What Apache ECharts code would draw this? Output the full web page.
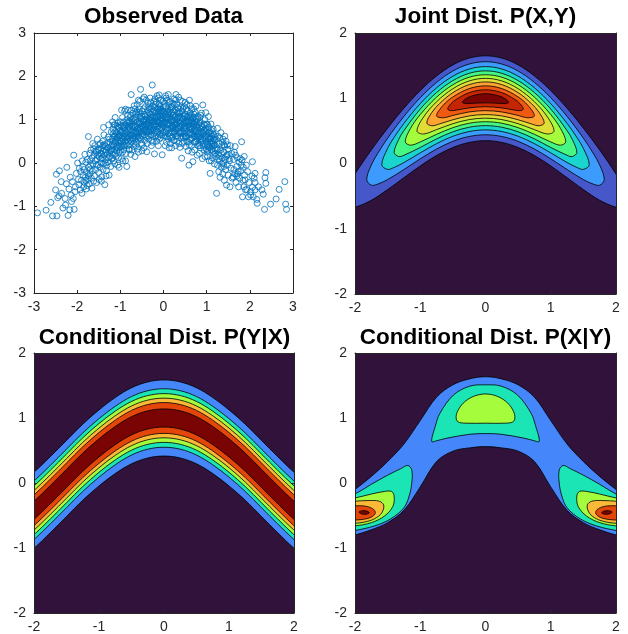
<!DOCTYPE html>
<html>
<head>
<meta charset="utf-8">
<title>Observed data, joint and conditional distributions</title>
<script src="https://cdn.jsdelivr.net/npm/echarts@6/dist/echarts.min.js"></script>
<style>
  html, body { margin: 0; padding: 0; background: #fff; }
  #chart { width: 628px; height: 634px; }
</style>
</head>
<body>
<div id="chart"></div>
<script>
// tick labels
const scatterTicks = [-3, -2, -1, 0, 1, 2, 3];
const contourTicks = [-2, -1, 0, 1, 2];

// observed (x, y) samples
const observed = [
  [-2.92,-1.15],[-2.72,-1.09],[-2.61,-0.91],[-2.57,-1.22],[-2.47,-1.22],[-2.50,-0.62],[-2.48,-0.26],[-2.41,-0.18],[-2.37,-0.43],[-2.42,-0.76],
  [-2.33,-1.04],[-2.27,-0.97],[-2.21,-1.21],[-2.17,-1.08],[-2.13,-0.89],[-2.07,-1.07],[-2.24,-0.10],[-2.08,0.18],[-2.11,-0.43],[-2.14,-0.74],
  [-2.05,-0.66],[-2.02,-0.24],[-2.28,-0.82],[-2.36,-0.70],[-2.19,-0.60],[-2.04,-0.55],[-2.16,-0.33],[-2.25,-0.48],[-2.09,-0.82],[-2.45,-0.80],
  [-1.99,0.00],[-1.97,-0.38],[-1.95,-0.12],[-1.93,-0.62],[-1.92,-0.20],[-1.90,-0.40],[-1.89,-0.70],[-1.88,0.05],[-1.86,-0.28],[-1.85,-0.55],
  [-1.84,-0.15],[-1.83,-0.45],[-1.81,-0.33],[-1.80,0.02],[-1.79,-0.60],[-1.78,-0.22],[-1.76,0.08],[-1.75,-0.38],[-1.74,0.61],[-1.73,-0.10],
  [-1.72,-0.48],[-1.71,0.22],[-1.70,-0.25],[-1.69,-0.05],[-1.68,0.30],[-1.67,-0.35],[-1.66,0.12],[-1.65,-0.18],[-1.64,0.45],[-1.63,-0.02],
  [-1.62,-0.42],[-1.61,0.18],[-1.96,-0.50],[-1.87,-0.09],[-1.82,0.20],[-1.77,-0.52],[-1.74,-0.30],[-1.70,0.05],[-1.66,-0.58],[-1.62,0.33],
  [-1.60,-0.30],[-1.59,0.40],[-1.58,0.05],[-1.57,-0.15],[-1.56,0.25],[-1.55,-0.45],[-1.54,0.10],[-1.53,0.55],[-1.52,-0.05],[-1.51,0.32],
  [-1.50,-0.22],[-1.49,0.15],[-1.48,0.42],[-1.47,-0.10],[-1.46,0.22],[-1.45,0.00],[-1.44,0.35],[-1.43,-0.32],[-1.42,0.12],[-1.41,0.50],
  [-1.40,0.28],[-1.39,-0.02],[-1.38,0.65],[-1.37,0.18],[-1.36,-0.50],[-1.35,0.38],[-1.34,0.08],[-1.33,0.30],[-1.32,-0.18],[-1.31,0.45],
  [-1.30,0.22],[-1.29,0.02],[-1.28,0.60],[-1.27,0.35],[-1.26,-0.28],[-1.25,0.15],[-1.24,0.48],[-1.23,0.28],[-1.22,-0.08],[-1.21,0.72],
  [-1.20,0.40],[-1.58,0.28],[-1.55,-0.05],[-1.52,0.18],[-1.49,-0.38],[-1.46,0.45],[-1.43,0.20],[-1.40,-0.15],[-1.37,0.42],[-1.34,0.25],
  [-1.31,-0.05],[-1.28,0.12],[-1.25,0.55],[-1.22,0.30],[-1.39,0.82],[-1.27,0.88],[-1.44,-0.42],[-1.33,-0.30],
  [-1.50,0.30],[-1.45,0.10],[-1.40,0.40],[-1.35,0.00],[-1.30,0.35],[-1.25,0.25],[-1.20,0.10],[-1.70,-0.15],[-1.80,-0.40],
  [-1.19,0.55],[-1.18,0.20],[-1.17,0.78],[-1.16,0.40],[-1.15,0.05],[-1.14,0.62],[-1.13,0.30],[-1.12,0.88],[-1.11,0.48],[-1.10,0.15],
  [-1.09,0.70],[-1.08,0.35],[-1.07,0.58],[-1.06,-0.05],[-1.05,0.82],[-1.04,0.45],[-1.03,0.25],[-1.02,0.65],[-1.01,0.52],[-1.00,0.95],
  [-0.99,0.38],[-0.98,0.72],[-0.97,0.10],[-0.96,0.58],[-0.95,1.05],[-0.94,0.45],[-0.93,0.80],[-0.92,0.30],[-0.91,0.62],[-0.90,1.20],
  [-0.89,0.50],[-0.88,0.88],[-0.87,0.22],[-0.86,0.70],[-0.85,1.00],[-0.84,0.40],[-0.83,0.78],[-0.82,0.58],[-0.81,0.95],[-0.80,0.32],
  [-1.19,0.32],[-1.16,0.68],[-1.13,-0.02],[-1.10,0.52],[-1.07,0.85],[-1.04,0.12],[-1.01,0.75],[-0.98,0.48],[-0.95,0.25],[-0.92,0.95],
  [-0.89,0.68],[-0.86,0.45],[-0.83,1.10],[-0.80,0.75],[-1.18,0.95],[-1.14,0.45],[-1.11,0.62],[-1.08,0.28],[-1.05,0.60],[-1.02,0.40],
  [-0.99,0.88],[-0.96,0.72],[-0.93,0.55],[-0.90,0.85],[-0.87,0.60],[-0.84,0.92],[-0.81,0.50],[-0.97,1.22],[-0.88,1.24],[-0.85,-0.08],
  [-1.03,-0.10],[-0.94,0.05],[-1.12,1.05],[-0.82,1.22],[-1.06,0.92],
  [-1.18,0.12],[-1.15,0.88],[-1.12,0.20],[-1.09,0.38],[-1.06,0.66],[-1.03,0.82],[-1.00,0.30],[-0.97,0.50],[-0.94,0.68],[-0.91,0.40],
  [-0.88,0.05],[-0.85,0.55],[-0.82,0.82],[-1.17,0.50],[-1.13,0.72],[-1.09,0.55],[-1.05,0.35],[-1.01,0.62],[-0.97,0.85],[-0.93,0.40],
  [-0.89,0.75],[-0.85,0.62],[-0.81,0.85],
  [-0.79,0.85],[-0.78,0.42],[-0.77,1.05],[-0.76,0.65],[-0.75,1.58],[-0.74,0.90],[-0.73,0.30],[-0.72,0.75],[-0.71,1.15],[-0.70,0.55],
  [-0.69,0.95],[-0.68,0.38],[-0.67,0.82],[-0.66,1.25],[-0.65,0.62],[-0.64,1.00],[-0.63,0.48],[-0.62,0.88],[-0.61,1.35],[-0.60,0.70],
  [-0.59,1.10],[-0.58,0.25],[-0.57,0.92],[-0.56,0.58],[-0.55,1.42],[-0.54,0.80],[-0.53,1.70],[-0.52,1.02],[-0.51,0.45],[-0.50,0.85],
  [-0.49,1.20],[-0.48,0.68],[-0.47,1.48],[-0.46,0.95],[-0.45,0.35],[-0.44,1.12],[-0.43,0.78],[-0.42,1.30],[-0.41,0.60],[-0.40,0.98],
  [-0.79,0.62],[-0.77,0.78],[-0.75,0.50],[-0.73,1.00],[-0.71,0.70],[-0.69,0.45],[-0.67,1.05],[-0.65,0.85],[-0.63,0.72],[-0.61,0.95],
  [-0.59,0.55],[-0.57,1.18],[-0.55,0.72],[-0.53,0.90],[-0.51,1.08],[-0.49,0.62],[-0.47,0.82],[-0.45,1.00],[-0.43,0.52],[-0.41,0.90],
  [-0.78,0.95],[-0.74,1.22],[-0.70,0.85],[-0.66,0.55],[-0.62,1.18],[-0.58,0.80],[-0.54,1.05],[-0.50,0.72],[-0.46,1.25],[-0.42,0.85],
  [-0.76,0.20],[-0.68,1.32],[-0.60,0.32],[-0.52,0.55],[-0.44,0.65],[-0.56,1.25],[-0.48,0.98],[-0.64,0.68],[-0.72,0.58],[-0.40,1.45],
  [-0.58,1.45],[-0.66,0.15],[-0.50,0.28],[-0.45,1.52],
  [-0.79,0.30],[-0.76,1.10],[-0.73,0.65],[-0.70,1.02],[-0.67,0.70],[-0.64,0.40],[-0.61,0.78],[-0.58,0.62],[-0.55,0.95],[-0.52,0.78],
  [-0.49,0.42],[-0.46,0.75],[-0.43,1.08],[-0.40,0.70],[-0.77,0.55],[-0.73,0.85],[-0.69,0.62],[-0.65,1.15],[-0.61,0.60],[-0.57,0.75],
  [-0.53,1.15],[-0.49,0.85],[-0.45,0.88],[-0.41,0.75],
  [-0.39,0.26],[-0.38,1.05],[-0.37,0.72],[-0.36,1.38],[-0.35,0.90],[-0.34,0.55],[-0.33,1.15],[-0.32,0.82],[-0.31,1.50],[-0.30,1.00],
  [-0.29,0.65],[-0.28,1.25],[-0.27,0.92],[-0.26,1.80],[-0.25,0.48],[-0.24,1.10],[-0.23,0.78],[-0.22,1.42],[-0.21,0.21],[-0.20,0.98],
  [-0.19,1.28],[-0.18,0.62],[-0.17,1.05],[-0.16,0.85],[-0.15,1.55],[-0.14,0.72],[-0.13,1.18],[-0.12,0.40],[-0.11,0.95],[-0.10,1.35],
  [-0.09,0.80],[-0.08,1.08],[-0.07,0.58],[-0.06,1.45],[-0.05,0.90],[-0.04,1.22],[-0.03,0.19],[-0.02,1.02],[-0.01,0.70],[0.00,1.30],
  [-0.39,0.88],[-0.37,1.22],[-0.35,0.62],[-0.33,0.98],[-0.31,0.75],[-0.29,1.12],[-0.27,0.52],[-0.25,1.32],[-0.23,0.88],[-0.21,1.05],
  [-0.19,0.70],[-0.17,1.40],[-0.15,0.95],[-0.13,0.60],[-0.11,1.25],[-0.09,1.00],[-0.07,0.82],[-0.05,1.15],[-0.03,0.65],[-0.01,1.42],
  [-0.38,0.45],[-0.34,1.30],[-0.30,0.85],[-0.26,1.05],[-0.22,0.68],[-0.18,1.15],[-0.14,1.00],[-0.10,0.55],[-0.06,1.18],[-0.02,0.88],
  [-0.36,1.02],[-0.28,0.40],[-0.20,1.48],[-0.12,0.85],[-0.04,0.98],[-0.32,1.25],[-0.24,0.95],[-0.16,0.50],[-0.08,1.30],[-0.14,1.25],
  [-0.06,0.75],[-0.26,0.75],[-0.18,0.90],[-0.10,1.10],[-0.02,1.20],[-0.35,0.78],[-0.22,1.20],[-0.08,0.65],[-0.30,1.40],[-0.12,1.50],
  [-0.10,1.57],
  [-0.37,0.95],[-0.34,0.72],[-0.31,1.05],[-0.28,0.82],[-0.25,0.62],[-0.22,0.95],[-0.19,1.35],[-0.16,1.08],[-0.13,0.78],[-0.10,0.92],
  [-0.07,1.25],[-0.04,0.80],[-0.01,1.08],[-0.37,1.10],[-0.33,0.88],[-0.29,0.98],[-0.25,1.18],[-0.21,0.85],[-0.17,0.75],[-0.13,1.08],
  [-0.09,1.20],[-0.05,1.02],[-0.01,0.92],
  [0.01,0.85],[0.02,1.38],[0.03,0.62],[0.04,1.12],[0.05,0.95],[0.06,1.50],[0.07,0.48],[0.08,1.05],[0.09,0.78],[0.10,1.25],
  [0.11,1.58],[0.12,0.90],[0.13,0.35],[0.14,1.18],[0.15,0.70],[0.16,1.42],[0.17,1.00],[0.18,0.58],[0.19,0.35],[0.20,1.30],
  [0.21,0.82],[0.22,1.10],[0.23,0.52],[0.24,1.48],[0.25,0.95],[0.26,0.72],[0.27,1.22],[0.28,0.40],[0.29,1.58],[0.30,0.88],
  [0.31,1.35],[0.32,0.62],[0.33,1.05],[0.34,0.80],[0.35,1.52],[0.36,0.45],[0.37,1.15],[0.38,0.36],[0.39,0.92],[0.40,1.28],
  [0.01,1.18],[0.03,0.92],[0.05,1.30],[0.07,0.75],[0.09,1.02],[0.11,0.55],[0.13,1.40],[0.15,1.05],[0.17,0.80],[0.19,1.15],
  [0.21,0.60],[0.23,0.98],[0.25,1.35],[0.27,0.78],[0.29,1.10],[0.31,0.50],[0.33,1.28],[0.35,0.95],[0.37,0.70],[0.39,1.45],
  [0.02,0.72],[0.06,1.05],[0.10,0.88],[0.14,0.62],[0.18,1.25],[0.22,0.85],[0.26,1.05],[0.30,0.68],[0.34,1.18],[0.38,0.85],
  [0.04,0.40],[0.08,1.45],[0.12,1.15],[0.16,0.45],[0.20,1.00],[0.24,0.68],[0.28,1.45],[0.32,0.92],[0.36,1.08],[0.40,0.58],
  [0.05,1.55],[0.15,0.88],[0.25,0.52],[0.35,0.70],[0.12,0.68],[0.22,1.38],[0.32,1.02],[0.18,0.95],[0.08,0.60],[0.28,0.88],
  [0.02,0.95],[0.05,0.70],[0.08,1.20],[0.11,1.00],[0.14,0.80],[0.17,1.30],[0.20,0.72],[0.23,1.18],[0.26,0.88],[0.29,0.62],
  [0.32,1.15],[0.35,0.85],[0.38,1.05],[0.03,1.05],[0.07,0.90],[0.11,1.10],[0.15,1.22],[0.19,0.85],[0.23,0.82],[0.27,1.00],
  [0.31,0.80],[0.35,1.25],[0.39,0.72],
  [0.41,0.95],[0.42,0.11],[0.43,1.20],[0.44,1.42],[0.45,0.72],[0.46,1.02],[0.47,0.50],[0.48,1.30],[0.49,0.85],[0.50,0.62],
  [0.51,1.12],[0.52,0.38],[0.53,0.95],[0.54,1.35],[0.55,0.70],[0.56,1.05],[0.57,0.28],[0.58,0.88],[0.59,-0.05],[0.60,1.45],
  [0.61,0.78],[0.62,1.15],[0.63,0.55],[0.64,0.98],[0.65,0.40],[0.66,1.25],[0.67,0.82],[0.68,0.03],[0.69,1.05],[0.70,0.62],
  [0.71,0.90],[0.72,0.30],[0.73,1.18],[0.74,0.72],[0.75,1.31],[0.76,0.50],[0.77,0.95],[0.78,0.18],[0.79,0.80],[0.80,1.08],
  [0.41,0.68],[0.43,0.88],[0.45,1.25],[0.47,0.80],[0.49,1.08],[0.51,0.60],[0.53,0.80],[0.55,1.20],[0.57,0.95],[0.59,0.65],
  [0.61,1.00],[0.63,0.82],[0.65,1.10],[0.67,0.58],[0.69,0.85],[0.71,1.12],[0.73,0.48],[0.75,0.88],[0.77,0.65],[0.79,1.02],
  [0.42,1.05],[0.46,0.58],[0.50,0.95],[0.54,0.50],[0.58,1.10],[0.62,0.70],[0.66,0.92],[0.70,1.25],[0.74,0.95],[0.78,0.55],
  [0.44,0.45],[0.52,1.25],[0.60,0.42],[0.68,1.02],[0.76,0.75],[0.48,0.68],[0.56,0.85],[0.64,0.65],[0.72,0.80],[0.80,0.68],
  [0.50,1.40],[0.66,0.25],[0.58,0.48],[0.74,1.05],[0.62,1.32],
  [0.41,0.82],[0.44,0.62],[0.47,1.10],[0.50,0.78],[0.53,0.62],[0.56,0.98],[0.59,0.82],[0.62,0.55],[0.65,0.78],[0.68,0.68],
  [0.71,0.48],[0.74,0.62],[0.77,0.85],[0.80,0.40],[0.43,1.00],[0.47,0.92],[0.51,0.85],[0.55,1.08],[0.59,0.95],[0.63,1.05],
  [0.67,0.95],[0.71,0.75],[0.75,0.72],[0.79,0.62],
  [0.81,0.45],[0.82,0.88],[0.83,0.22],[0.84,1.05],[0.85,0.62],[0.86,0.35],[0.87,0.78],[0.88,1.15],[0.89,0.52],[0.90,0.10],
  [0.91,1.34],[0.92,0.68],[0.93,0.40],[0.94,0.90],[0.95,0.58],[0.96,0.15],[0.97,0.80],[0.98,1.16],[0.99,0.48],[1.00,0.65],
  [1.01,0.25],[1.02,0.88],[1.03,0.40],[1.04,1.07],[1.05,0.55],[1.06,0.05],[1.07,0.72],[1.08,-0.24],[1.09,0.45],[1.10,0.90],
  [1.11,0.30],[1.12,0.62],[1.13,0.12],[1.14,0.50],[1.15,0.78],[1.16,0.20],[1.17,0.40],[1.18,-0.02],[1.19,0.60],[1.20,0.32],
  [0.82,0.60],[0.85,0.95],[0.88,0.72],[0.91,0.55],[0.94,0.30],[0.97,0.62],[1.00,0.90],[1.03,0.60],[1.06,0.38],[1.09,0.68],
  [1.12,0.45],[1.15,0.28],[1.18,0.52],[0.84,0.40],[0.90,0.82],[0.96,1.00],[1.02,0.15],[1.08,0.55],[1.14,0.68],[0.86,1.10],
  [0.93,0.75],[1.05,0.82],[1.11,0.05],[0.99,0.32],[1.17,0.65],
  [0.83,0.70],[0.86,0.55],[0.89,0.85],[0.92,0.45],[0.95,0.75],[0.98,0.55],[1.01,0.42],[1.04,0.70],[1.07,0.35],[1.10,0.58],
  [1.13,0.38],[1.16,0.55],[1.19,0.22],[0.83,0.92],[0.87,0.48],[0.91,0.70],[0.95,0.88],[0.99,0.72],[1.03,0.30],[1.07,0.48],
  [1.11,0.75],[1.15,0.45],[1.19,0.42],
  [1.21,0.15],[1.22,0.55],[1.23,-0.70],[1.24,0.35],[1.25,-0.05],[1.26,0.62],[1.27,0.20],[1.28,-0.20],[1.29,0.45],[1.30,0.05],
  [1.31,-0.33],[1.32,0.30],[1.33,0.70],[1.34,-0.10],[1.35,0.40],[1.36,0.12],[1.37,-0.25],[1.38,0.55],[1.39,0.00],[1.40,0.25],
  [1.41,-0.40],[1.42,0.38],[1.43,0.08],[1.44,-0.15],[1.45,0.50],[1.46,-0.51],[1.47,0.18],[1.48,-0.05],[1.49,0.32],[1.50,-0.28],
  [1.52,0.10],[1.54,-0.55],[1.55,0.40],[1.56,-0.12],[1.58,0.22],[1.59,-0.35],[1.25,0.80],[1.30,0.58],[1.36,0.48],[1.42,0.62],
  [1.48,0.42],[1.53,0.05],[1.28,0.10],[1.34,0.22],[1.40,-0.08],
  [1.25,0.30],[1.30,0.15],[1.35,-0.02],[1.40,0.42],[1.45,0.15],[1.50,0.20],[1.70,-0.30],[1.80,-0.05],
  [1.61,-0.32],[1.62,0.08],[1.63,-0.15],[1.64,0.25],[1.66,0.38],[1.67,0.18],[1.68,-0.45],[1.70,-0.08],[1.71,0.12],[1.72,-0.25],
  [1.74,-0.55],[1.75,0.02],[1.76,-0.35],[1.78,0.10],[1.79,-0.18],[1.81,0.49],[1.82,0.07],[1.83,-0.78],[1.84,-0.40],[1.85,-0.10],
  [1.87,0.15],[1.88,-0.28],[1.89,-0.39],[1.90,-0.62],[1.92,-0.05],[1.93,-0.61],[1.95,-0.20],[1.97,-0.78],[1.98,-0.45],[1.65,-0.25],
  [1.73,-0.20],[1.86,-0.55],
  [2.02,-0.66],[2.02,-0.74],[2.06,0.03],[2.06,-0.56],[2.10,-0.35],[2.12,-0.24],[2.12,-0.45],[2.12,-0.62],[2.16,-0.84],[2.17,-0.93],
  [2.28,-0.62],[2.31,-0.72],[2.34,-1.07],[2.35,-0.34],[2.37,-0.22],[2.37,-0.47],[2.48,-0.95],[2.61,-0.83],[2.68,-0.61],[2.81,-0.43],
  [2.83,-0.95],[2.85,-1.07],[2.05,-0.30],[2.08,-0.78],[2.20,-0.55]
];

// contour fill colours
const backgroundColor = '#30123b';
const jointColors = ['#4557c9', '#3e9bfe', '#19d5cd', '#47f784', '#a4fc3c', '#e1dd37', '#fea331', '#ef5911', '#c42503', '#7a0403'];
const condColors = ['#4686fb', '#1be5b5', '#a4fc3c', '#fbb938', '#e4460a', '#7a0403'];

// Joint P(X,Y): each level traced for x >= 0 (upper edge out to the tip, lower edge), mirrored for x < 0
const jointUpper = [
  [[0,1.65],[0.25,1.615],[0.5,1.511],[0.75,1.342],[1,1.117],[1.25,0.847],[1.5,0.542],[1.75,0.208],[2,-0.161],[2.1,-0.337],[2.174,-0.567]],
  [[0,1.56],[0.25,1.524],[0.5,1.417],[0.75,1.242],[1,1.008],[1.25,0.722],[1.5,0.388],[1.65,0.157],[1.75,-0.024],[1.82,-0.247]],
  [[0,1.485],[0.25,1.448],[0.5,1.338],[0.75,1.16],[1,0.917],[1.25,0.615],[1.4,0.40],[1.5,0.232],[1.59,-0.019]],
  [[0,1.42],[0.25,1.382],[0.5,1.27],[0.75,1.087],[1,0.834],[1.25,0.504],[1.33,0.369],[1.4,0.17]],
  [[0,1.36],[0.25,1.322],[0.5,1.207],[0.75,1.017],[1,0.75],[1.15,0.537],[1.23,0.334]],
  [[0,1.305],[0.25,1.265],[0.5,1.146],[0.75,0.946],[0.95,0.712],[1.05,0.498]],
  [[0,1.25],[0.25,1.209],[0.5,1.086],[0.7,0.922],[0.82,0.785],[0.9,0.622]],
  [[0,1.19],[0.25,1.148],[0.5,1.02],[0.65,0.891],[0.75,0.732]],
  [[0,1.13],[0.25,1.086],[0.45,0.982],[0.53,0.916],[0.58,0.836]],
  [[0,1.07],[0.2,1.038],[0.3,0.993],[0.355,0.938]]
];
const jointLower = [
  [[0,0.35],[0.25,0.323],[0.5,0.245],[0.75,0.122],[1,-0.037],[1.25,-0.217],[1.5,-0.40],[1.75,-0.564],[2,-0.671],[2.1,-0.673]],
  [[0,0.44],[0.25,0.414],[0.5,0.34],[0.75,0.222],[1,0.072],[1.25,-0.092],[1.5,-0.246],[1.65,-0.315],[1.75,-0.332]],
  [[0,0.515],[0.25,0.49],[0.5,0.418],[0.75,0.304],[1,0.163],[1.25,0.015],[1.4,-0.06],[1.5,-0.09]],
  [[0,0.58],[0.25,0.556],[0.5,0.486],[0.75,0.377],[1,0.246],[1.25,0.126],[1.33,0.107]],
  [[0,0.64],[0.25,0.617],[0.5,0.549],[0.75,0.447],[1,0.33],[1.15,0.281]],
  [[0,0.695],[0.25,0.673],[0.5,0.61],[0.75,0.519],[0.95,0.452]],
  [[0,0.75],[0.25,0.729],[0.5,0.67],[0.7,0.608],[0.82,0.579]],
  [[0,0.81],[0.25,0.79],[0.5,0.736],[0.65,0.701]],
  [[0,0.87],[0.25,0.852],[0.45,0.818],[0.53,0.81]],
  [[0,0.93],[0.2,0.922],[0.3,0.918]]
];

// Conditional P(Y|X): ridge of the bands and the half-width of each level
const condXs = [-2.25, -2, -1.75, -1.5, -1.25, -1, -0.75, -0.5, -0.25, 0, 0.25, 0.5, 0.75, 1, 1.25, 1.5, 1.75, 2, 2.25];
const condRidge = [-0.63, -0.42, -0.18, 0.07, 0.32, 0.54, 0.73, 0.88, 0.97, 1.0, 0.97, 0.88, 0.73, 0.54, 0.32, 0.07, -0.18, -0.42, -0.63];
const condHalfWidth = [0.585, 0.45, 0.375, 0.305, 0.237, 0.14];

// Conditional P(X|Y): outer arch and central cap (x >= 0, mirrored), end lobes (x < 0, mirrored)
const archUpper = [[0,1.635],[0.25,1.60],[0.5,1.51],[0.75,1.32],[1,0.96],[1.25,0.60],[1.5,0.33],[1.75,0.10],[2,-0.10],[2.3,-0.32]];
const archLower = [[0,0.56],[0.25,0.54],[0.5,0.49],[0.75,0.33],[1,-0.06],[1.25,-0.42],[1.5,-0.61],[1.75,-0.72],[2,-0.80],[2.3,-0.88]];
const capUpper = [[0,1.51],[0.24,1.49],[0.49,1.354],[0.70,1.07],[0.77,0.87],[0.825,0.64]];
const capLower = [[0,0.76],[0.24,0.75],[0.59,0.69],[0.75,0.65]];
const domeUpper = [[0,1.37],[0.19,1.33],[0.34,1.23],[0.43,1.10],[0.45,1.0]];
const domeLower = [[0,0.92],[0.3,0.92],[0.42,0.94]];
const lobes = [
  [[-2.3,-0.30],[-2,-0.17],[-1.75,-0.02],[-1.5,0.12],[-1.3,0.22],[-1.19,0.27],[-1.13,0.20],[-1.13,0.0],[-1.17,-0.2],[-1.25,-0.38],[-1.45,-0.55],[-1.7,-0.66],[-2,-0.73],[-2.3,-0.77]],
  [[-2.3,-0.28],[-2,-0.23],[-1.75,-0.17],[-1.55,-0.13],[-1.44,-0.13],[-1.40,-0.20],[-1.42,-0.36],[-1.55,-0.51],[-1.75,-0.61],[-2,-0.66],[-2.3,-0.68]],
  [[-2.3,-0.30],[-2,-0.28],[-1.8,-0.27],[-1.63,-0.28],[-1.56,-0.34],[-1.59,-0.46],[-1.7,-0.55],[-1.85,-0.60],[-2,-0.62],[-2.3,-0.63]],
  [[-2.3,-0.36],[-2,-0.35],[-1.82,-0.36],[-1.71,-0.41],[-1.69,-0.47],[-1.76,-0.53],[-1.88,-0.56],[-2,-0.57],[-2.3,-0.58]],
  [[-1.94,-0.445],[-1.88,-0.425],[-1.81,-0.435],[-1.78,-0.46],[-1.83,-0.48],[-1.90,-0.475]]
];

const axisColor = '#262626';
const labelFont = { color: axisColor, fontSize: 14, fontFamily: '"Liberation Sans", Arial, Helvetica, sans-serif' };

// closed outline from the x >= 0 half (upper to tip, lower back) plus its mirror image
function mirrorLoop(upper, lower) {
  const right = upper.concat(lower.slice().reverse());
  const leftLower = lower.slice(1).map(p => [-p[0], p[1]]);
  const leftUpper = upper.slice(1).reverse().map(p => [-p[0], p[1]]);
  return right.concat(leftLower, leftUpper);
}
function flipX(points) {
  return points.map(p => [-p[0], p[1]]);
}

const jointShapes = jointUpper.map((up, i) => ({ points: mirrorLoop(up, jointLower[i]), color: jointColors[i] }));

const condShapes = condHalfWidth.map((w, i) => {
  const top = condXs.map((x, j) => [x, condRidge[j] + w]);
  const bottom = condXs.map((x, j) => [x, condRidge[j] - w]).reverse();
  return { points: top.concat(bottom), color: condColors[i] };
});

const xGivenYShapes = [
  { points: mirrorLoop(archUpper, archLower), color: condColors[0] },
  { points: mirrorLoop(capUpper, capLower), color: condColors[1] },
  { points: mirrorLoop(domeUpper, domeLower), color: condColors[2] }
];
lobes.forEach((lobe, i) => {
  xGivenYShapes.push({ points: lobe, color: condColors[i + 1] });
  xGivenYShapes.push({ points: flipX(lobe), color: condColors[i + 1] });
});

const grids = [
  { left: 34, top: 33, width: 259, height: 260 },
  { left: 355, top: 33, width: 261, height: 261 },
  { left: 34, top: 353, width: 260, height: 260 },
  { left: 355, top: 353, width: 261, height: 260 }
];
const gridTicks = [scatterTicks, contourTicks, contourTicks, contourTicks];

const xAxes = [];
const yAxes = [];
gridTicks.forEach((ticks, g) => {
  const common = {
    gridIndex: g, type: 'value', z: 5,
    min: ticks[0], max: ticks[ticks.length - 1], interval: ticks[1] - ticks[0],
    splitLine: { show: false },
    axisLine: { show: true, onZero: false, lineStyle: { color: axisColor, width: 1 } },
    axisTick: { show: true, inside: true, length: 3, lineStyle: { color: axisColor, width: 1 } }
  };
  xAxes.push(Object.assign({}, common, { position: 'bottom', axisLabel: Object.assign({ margin: 7 }, labelFont) }));
  xAxes.push(Object.assign({}, common, { position: 'top', axisLabel: { show: false } }));
  yAxes.push(Object.assign({}, common, { position: 'left', axisLabel: Object.assign({ margin: 8 }, labelFont) }));
  yAxes.push(Object.assign({}, common, { position: 'right', axisLabel: { show: false } }));
});

function contourSeries(g, shapes) {
  return {
    type: 'custom',
    xAxisIndex: g * 2,
    yAxisIndex: g * 2,
    clip: true,
    silent: true,
    animation: false,
    data: shapes.map((s, i) => [i, 0]),
    renderItem: function (params, api) {
      const s = shapes[params.dataIndex];
      return {
        type: 'polygon',
        shape: { points: s.points.map(p => api.coord(p)), smooth: 0.35 },
        style: { fill: s.color, stroke: '#000', lineWidth: 0.8 }
      };
    }
  };
}

const titleFont = 'bold 22.5px "Liberation Sans", Arial, Helvetica, sans-serif';
const titles = [
  { text: 'Observed Data', x: 163.5, y: 16.5 },
  { text: 'Joint Dist. P(X,Y)', x: 485.5, y: 16.5 },
  { text: 'Conditional Dist. P(Y|X)', x: 164.5, y: 337.5 },
  { text: 'Conditional Dist. P(X|Y)', x: 485.5, y: 337.5 }
];

const chart = echarts.init(document.getElementById('chart'), null, { renderer: 'canvas' });
chart.setOption({
  animation: false,
  backgroundColor: '#ffffff',
  grid: grids.map((r, g) => Object.assign({
    show: g > 0,
    backgroundColor: g > 0 ? backgroundColor : 'transparent',
    borderWidth: 0,
    containLabel: false
  }, r)),
  xAxis: xAxes,
  yAxis: yAxes,
  graphic: titles.map(t => ({
    type: 'text', x: t.x, y: t.y, z: 10,
    style: { text: t.text, font: titleFont, fill: '#000', align: 'center', verticalAlign: 'middle' }
  })),
  series: [
    {
      type: 'scatter',
      xAxisIndex: 0,
      yAxisIndex: 0,
      data: observed,
      symbol: 'circle',
      symbolSize: 6,
      silent: true,
      itemStyle: { color: 'rgba(0,0,0,0)', borderColor: '#0072BD', borderWidth: 1 }
    },
    contourSeries(1, jointShapes),
    contourSeries(2, condShapes),
    contourSeries(3, xGivenYShapes)
  ]
});
window.addEventListener('resize', chart.resize);
</script>
</body>
</html>
